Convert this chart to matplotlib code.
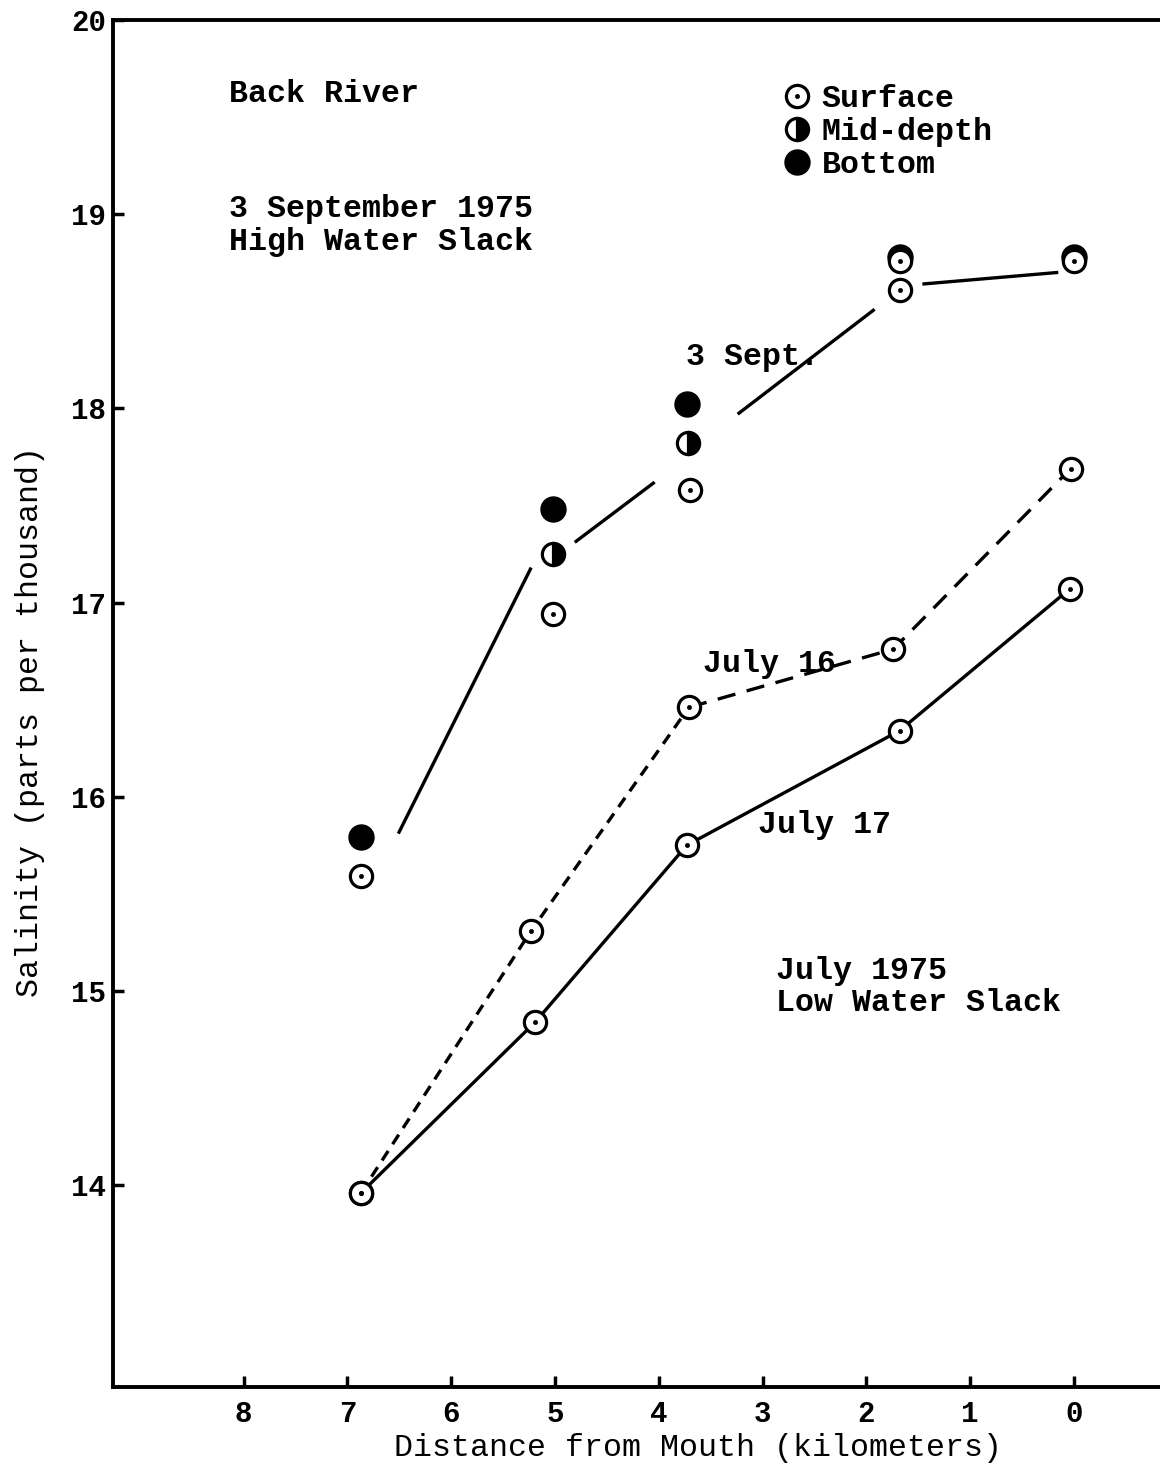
import matplotlib
matplotlib.use("Agg")
import matplotlib.pyplot as plt
from matplotlib.lines import Line2D

# Back River salinity
# distance from mouth in km, salinity in parts per thousand

# 3 September 1975, high water slack
sept_x = [6.87, 5.02, 3.73, 1.68, 0.0]
sept_bottom = [15.79, 17.48, 18.02, 18.78, 18.78]
sept_mid_x = [5.02, 3.72]
sept_mid = [17.25, 17.82]
sept_surf_x = [6.87, 5.02, 3.70, 1.68, 1.68, 0.0]
sept_surf = [15.59, 16.94, 17.58, 18.61, 18.76, 18.76]

# the hand drawn 3 Sept. line is broken into pieces
sept_line_x = [[6.51, 5.23], [4.81, 4.04], [3.24, 1.92], [1.46, 0.15]]
sept_line_y = [[15.81, 17.18], [17.31, 17.62], [17.97, 18.51], [18.64, 18.70]]

# July 1975, low water slack (surface only)
jul16_x = [6.87, 5.23, 3.71, 1.74, 0.03]
jul16 = [13.96, 15.31, 16.46, 16.76, 17.69]
jul17_x = [6.87, 5.19, 3.73, 1.68, 0.04]
jul17 = [13.96, 14.84, 15.75, 16.34, 17.07]

xticks = [8, 7, 6, 5, 4, 3, 2, 1, 0]
yticks = [14, 15, 16, 17, 18, 19, 20]

mono = "Liberation Mono"
plt.rcParams["font.family"] = [mono, "DejaVu Sans Mono"]
plt.rcParams["font.weight"] = "bold"

ink = "black"
lw = 2.4
fs = 22.8

fig = plt.figure(figsize=(11.6, 14.67), dpi=100)
ax = fig.add_axes([0.0974, 0.0545, 0.9026, 0.9319])
ax.set_xlim(9.26, -0.83)
ax.set_ylim(12.96, 20)

# lines
for xs, ys in zip(sept_line_x, sept_line_y):
    ax.plot(xs, ys, color=ink, lw=lw, solid_capstyle="butt", zorder=2)
ax.plot(jul16_x[:3], jul16[:3], color=ink, lw=lw, dashes=(3.4, 2.4), zorder=2)
ax.plot(jul16_x[2:], jul16[2:], color=ink, lw=lw, dashes=(5.5, 3.5), zorder=2)
ax.plot(jul17_x, jul17, color=ink, lw=lw, zorder=2)

# markers
surf_kw = dict(ls="none", marker="o", ms=16, mfc="white", mec=ink, mew=2.3, zorder=4)
dot_kw = dict(ls="none", marker="o", ms=3, mfc=ink, mec=ink, mew=0.5, zorder=5)
mid_kw = dict(ls="none", marker="o", ms=16, mfc=ink, mec=ink, mew=2.3,
              markerfacecoloralt="white", fillstyle="right", zorder=4)
bot_kw = dict(ls="none", marker="o", ms=18, mfc=ink, mec=ink, mew=1, zorder=3)

ax.plot(sept_x, sept_bottom, **bot_kw)
ax.plot(sept_mid_x, sept_mid, **mid_kw)
for xs, ys in [(sept_surf_x, sept_surf), (jul16_x, jul16), (jul17_x, jul17)]:
    ax.plot(xs, ys, **surf_kw)
    ax.plot(xs, ys, **dot_kw)

# legend
handles = [(Line2D([], [], **surf_kw), Line2D([], [], **dot_kw)),
           Line2D([], [], **mid_kw),
           Line2D([], [], **bot_kw)]
ax.legend(handles, ["Surface", "Mid-depth", "Bottom"], loc="upper left",
          bbox_to_anchor=(0.638, 0.9532), frameon=False, handlelength=1.0,
          handletextpad=0.29, labelspacing=0.1, borderpad=0, borderaxespad=0,
          prop=dict(family=mono, weight="bold", size=fs))

# annotations
txt = dict(transform=ax.transAxes, fontsize=fs, va="baseline", ha="left")
ax.text(0.1108, 0.9400, "Back River", **txt)
ax.text(0.1108, 0.8559, "3 September 1975", **txt)
ax.text(0.1108, 0.8317, "High Water Slack", **txt)
ax.text(0.5473, 0.7476, "3 Sept.", **txt)
ax.text(0.5635, 0.5230, "July 16", **txt)
ax.text(0.6160, 0.4053, "July 17", **txt)
ax.text(0.6332, 0.2985, "July 1975", **txt)
ax.text(0.6332, 0.2751, "Low Water Slack", **txt)

# axes
ax.set_xticks(xticks)
ax.set_yticks(yticks)
ax.tick_params(direction="in", length=8, width=2.5, labelsize=21)
ax.tick_params(axis="y", pad=5)
ax.tick_params(axis="x", pad=9)
for side in ["left", "top", "bottom"]:
    ax.spines[side].set_linewidth(2.8)
ax.spines["right"].set_visible(False)

ax.set_xlabel("Distance from Mouth (kilometers)", fontsize=fs)
ax.xaxis.set_label_coords(0.559, -0.0446)
ax.xaxis.label.set_va("center")
ax.set_ylabel("Salinity (parts per thousand)", fontsize=fs)
ax.yaxis.set_label_coords(-0.0793, 0.4865)
ax.yaxis.label.set_va("center")

fig.savefig("out.png", dpi=100)
